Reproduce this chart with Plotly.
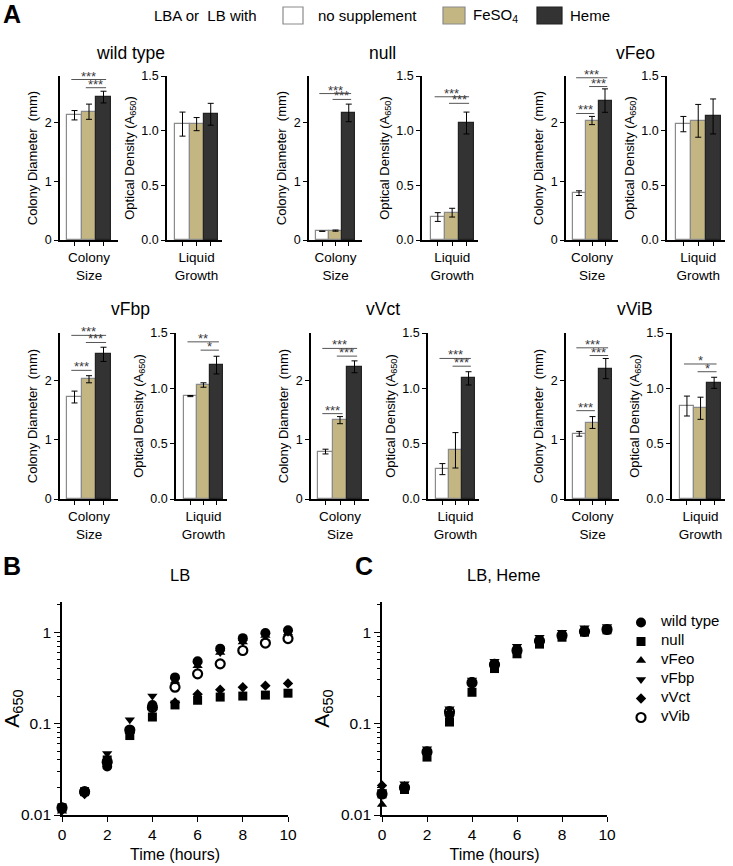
import plotly.graph_objects as go

W, H = 733, 866
FONT = "Liberation Sans, Arial, sans-serif"

# ---------------- data: panel A ----------------
strains = ["wild type", "null", "vFeo", "vFbp", "vVct", "vViB"]
conditions = ["no supplement", "FeSO<sub>4</sub>", "Heme"]

colony_mean = {
    "wild type": [2.13, 2.19, 2.44],
    "null": [0.15, 0.16, 2.17],
    "vFeo": [0.80, 2.04, 2.38],
    "vFbp": [1.72, 2.02, 2.44],
    "vVct": [0.80, 1.33, 2.23],
    "vViB": [1.10, 1.29, 2.20],
}
colony_err = {
    "wild type": [0.08, 0.13, 0.10],
    "null": [0.0, 0.01, 0.15],
    "vFeo": [0.04, 0.07, 0.20],
    "vFbp": [0.10, 0.06, 0.12],
    "vVct": [0.04, 0.06, 0.10],
    "vViB": [0.04, 0.10, 0.17],
}
liquid_mean = {
    "wild type": [1.06, 1.06, 1.15],
    "null": [0.21, 0.25, 1.07],
    "vFeo": [1.06, 1.09, 1.13],
    "vFbp": [0.93, 1.03, 1.21],
    "vVct": [0.27, 0.44, 1.09],
    "vViB": [0.84, 0.82, 1.05],
}
liquid_err = {
    "wild type": [0.11, 0.06, 0.10],
    "null": [0.04, 0.04, 0.10],
    "vFeo": [0.07, 0.15, 0.16],
    "vFbp": [0.005, 0.02, 0.08],
    "vVct": [0.05, 0.16, 0.06],
    "vViB": [0.09, 0.10, 0.05],
}
# significance brackets: (from bar, to bar, height, label)
colony_sig = {
    "wild type": [(0, 2, 2.74, "***"), (1, 2, 2.60, "***")],
    "null": [(0, 2, 2.50, "***"), (1, 2, 2.40, "***")],
    "vFeo": [(0, 2, 2.77, "***"), (1, 2, 2.62, "***"), (0, 1, 2.16, "***")],
    "vFbp": [(0, 2, 2.76, "***"), (1, 2, 2.64, "***"), (0, 1, 2.17, "***")],
    "vVct": [(0, 2, 2.54, "***"), (1, 2, 2.41, "***"), (0, 1, 1.44, "***")],
    "vViB": [(0, 2, 2.55, "***"), (1, 2, 2.42, "***"), (0, 1, 1.49, "***")],
}
liquid_sig = {
    "wild type": [],
    "null": [(0, 2, 1.31, "***"), (1, 2, 1.25, "***")],
    "vFeo": [],
    "vFbp": [(0, 2, 1.42, "**"), (1, 2, 1.345, "*")],
    "vVct": [(0, 2, 1.27, "***"), (1, 2, 1.20, "***")],
    "vViB": [(0, 2, 1.22, "*"), (1, 2, 1.15, "*")],
}

# ---------------- data: panels B, C ----------------
hours = list(range(11))
series_names = ["wild type", "null", "vFeo", "vFbp", "vVct", "vVib"]
lb_values = {
    "wild type": [0.012, 0.018, 0.034, 0.085, 0.16, 0.32, 0.48, 0.66, 0.86, 0.98, 1.05],
    "null": [0.012, 0.018, 0.040, 0.074, 0.118, 0.16, 0.18, 0.195, 0.20, 0.205, 0.215],
    "vFeo": [0.011, 0.018, 0.040, 0.082, 0.15, 0.29, 0.43, 0.60, 0.78, 0.92, 0.98],
    "vFbp": [0.011, 0.017, 0.047, 0.11, 0.20, 0.30, 0.44, 0.60, 0.78, 0.92, 1.00],
    "vVct": [0.012, 0.017, 0.040, 0.080, 0.15, 0.17, 0.21, 0.235, 0.25, 0.26, 0.275],
    "vVib": [0.012, 0.018, 0.038, 0.085, 0.15, 0.25, 0.35, 0.45, 0.63, 0.76, 0.85],
}
heme_values = {
    "wild type": [0.017, 0.0195, 0.049, 0.125, 0.285, 0.45, 0.64, 0.80, 0.92, 1.02, 1.07],
    "null": [0.017, 0.019, 0.043, 0.104, 0.22, 0.40, 0.58, 0.74, 0.88, 1.00, 1.06],
    "vFeo": [0.013, 0.021, 0.050, 0.13, 0.28, 0.45, 0.65, 0.82, 0.95, 1.05, 1.10],
    "vFbp": [0.018, 0.022, 0.053, 0.145, 0.30, 0.48, 0.70, 0.88, 1.00, 1.12, 1.15],
    "vVct": [0.021, 0.020, 0.048, 0.13, 0.28, 0.45, 0.64, 0.80, 0.93, 1.03, 1.08],
    "vVib": [0.017, 0.020, 0.049, 0.135, 0.28, 0.44, 0.63, 0.80, 0.92, 1.02, 1.07],
}

# ---------------- styling / layout ----------------
BAR_COLORS = ["#ffffff", "#c3b682", "#333333"]
BAR_LINES = ["#8a8a8a", "#8a8a8a", "#222222"]
SYMBOLS = {"wild type": "circle", "null": "square", "vFeo": "triangle-up",
           "vFbp": "triangle-down", "vVct": "diamond", "vVib": "circle-open"}
SIZES = {"wild type": 10, "null": 9, "vFeo": 9, "vFbp": 9, "vVct": 8, "vVib": 9}


def px_x(a):
    return a / W


def px_y(b):
    return 1 - b / H


def xd(a, b):
    return [px_x(a), px_x(b)]


def yd(top, bot):
    return [px_y(bot), px_y(top)]


# pixel boxes: (colony x0, x1, liquid x0, x1, top, bottom, title center x, title y)
panel_px = {
    "wild type": (60, 118, 167, 222, 76, 240, 130, 53),
    "null": (309, 362, 422, 478, 76, 240, 382, 53),
    "vFeo": (566, 618, 667, 725, 76, 240, 635, 53),
    "vFbp": (60, 118, 176, 227, 333, 499, 130, 309),
    "vVct": (311, 369, 428, 479, 333, 499, 383, 309),
    "vViB": (566, 619, 672, 725, 333, 499, 635, 309),
}

fig = go.Figure()
layout = dict(
    width=W, height=H, margin=dict(l=0, r=0, t=0, b=0, autoexpand=False),
    paper_bgcolor="white", plot_bgcolor="white",
    font=dict(family=FONT, color="black", size=12),
    showlegend=True, bargap=0,
)
annotations = []
shapes = []

axis_common = dict(showgrid=False, zeroline=False, showline=True, linecolor="black",
                   linewidth=1.6, ticks="outside", ticklen=4, tickwidth=1.4,
                   tickcolor="black", tickfont=dict(size=12.5, family=FONT),
                   automargin=False)

k = 0
for s in strains:
    cx0, cx1, lx0, lx1, top, bot, tcx, ty = panel_px[s]
    for kind in ("colony", "liquid"):
        k += 1
        xa, ya = f"x{k}", f"y{k}"
        if kind == "colony":
            means, errs, sig = colony_mean[s], colony_err[s], colony_sig[s]
            dom = xd(cx0, cx1)
            yr, yt, yfmt = [0, 2.8], [0, 1, 2], None
            xlabel = "Colony<br>Size"
            ytitle = "Colony Diameter  (mm)"
            xr = [-1, 3]
        else:
            means, errs, sig = liquid_mean[s], liquid_err[s], liquid_sig[s]
            dom = xd(lx0, lx1)
            yr, yt, yfmt = [0, 1.5], [0, 0.5, 1.0, 1.5], ".1f"
            xlabel = "Liquid<br>Growth"
            ytitle = "Optical Density (A<sub>650</sub>)"
            xr = [-1.1, 2.8]
        fig.add_trace(go.Bar(
            x=[0, 1, 2], y=means, width=1, xaxis=xa, yaxis=ya, showlegend=False,
            marker=dict(color=BAR_COLORS, line=dict(color=BAR_LINES, width=1.2)),
            error_y=dict(type="data", array=errs, color="black", thickness=1, width=3),
            hoverinfo="skip",
        ))
        layout[f"xaxis{k}"] = dict(axis_common, domain=dom, anchor=ya, range=xr,
                                   tickvals=[1], ticktext=[xlabel],
                                   tickfont=dict(size=13.5, family=FONT),
                                   minor=dict(tickvals=[0, 2], ticks="outside", ticklen=4,
                                              tickwidth=1.4, tickcolor="black"))
        ya_d = dict(axis_common, domain=yd(top, bot), anchor=xa, range=yr, tickvals=yt,
                    title=dict(text=ytitle, font=dict(size=13, family=FONT), standoff=4))
        if yfmt:
            ya_d["tickformat"] = yfmt
        layout[f"yaxis{k}"] = ya_d
        for (i, j, hgt, lab) in sig:
            shapes.append(dict(type="line", xref=xa, yref=ya, x0=i - 0.22, x1=j + 0.18,
                               y0=hgt, y1=hgt, line=dict(color="#555555", width=1)))
            annotations.append(dict(xref=xa, yref=ya, x=(i - 0.22 + j + 0.18) / 2, y=hgt,
                                    text=lab, showarrow=False, yanchor="bottom", yshift=-6,
                                    font=dict(size=13, family=FONT, color="#3a3a3a")))
    annotations.append(dict(xref="paper", yref="paper", x=px_x(tcx), y=px_y(ty), text=s,
                            showarrow=False, xanchor="center", yanchor="middle",
                            font=dict(size=17.5, family=FONT)))

# ---------------- panels B and C ----------------
minor_vals = [m * 10 ** e for e in (-2, -1, 0) for m in range(2, 10)]
for (vals, title, x0, x1, tcx, show_leg) in (
        (lb_values, "LB", 62, 288, 180, False),
        (heme_values, "LB, Heme", 382, 607, 503, True)):
    k += 1
    xa, ya = f"x{k}", f"y{k}"
    draw_order = ["vFeo", "vFbp", "vVct", "null", "wild type", "vVib"]
    for nm in draw_order:
        sym = SYMBOLS[nm]
        fig.add_trace(go.Scatter(
            x=hours, y=vals[nm], mode="markers", xaxis=xa, yaxis=ya,
            name=f'<span style="font-size:15px">{nm}</span>',
            showlegend=show_leg, legendrank=series_names.index(nm) + 1, cliponaxis=False,
            marker=dict(symbol=sym, size=SIZES[nm], color="black",
                        line=dict(color="black", width=2.2 if sym == "circle-open" else 0)),
        ))
    layout[f"xaxis{k}"] = dict(axis_common, domain=xd(x0, x1), anchor=ya, range=[0, 10],
                               tickvals=[0, 2, 4, 6, 8, 10], ticklen=5,
                               tickfont=dict(size=15.5, family=FONT),
                               title=dict(text="Time (hours)", font=dict(size=16, family=FONT),
                                          standoff=6))
    layout[f"yaxis{k}"] = dict(axis_common, domain=yd(602, 815), anchor=xa, type="log",
                               range=[-2, 0.33], tickvals=[0.01, 0.1, 1],
                               ticktext=["0.01", "0.1", "1"], ticklen=6,
                               tickfont=dict(size=15.5, family=FONT),
                               minor=dict(tickvals=minor_vals, ticks="outside", ticklen=3,
                                          tickcolor="black", tickwidth=1),
                               title=dict(text="A<sub>650</sub>", font=dict(size=21, family=FONT),
                                          standoff=6))
    annotations.append(dict(xref="paper", yref="paper", x=px_x(tcx), y=px_y(575), text=title,
                            showarrow=False, xanchor="center", yanchor="middle",
                            font=dict(size=16.5, family=FONT)))

layout["legend"] = dict(x=px_x(621), y=px_y(608), xanchor="left", yanchor="top",
                        font=dict(size=10, family=FONT), bgcolor="rgba(0,0,0,0)",
                        tracegroupgap=0, itemsizing="trace")

# ---------------- panel letters and top legend ----------------
for (lab, px, py) in (("A", 12, 14), ("B", 12, 566), ("C", 364, 566)):
    annotations.append(dict(xref="paper", yref="paper", x=px_x(px), y=px_y(py), text=f"<b>{lab}</b>",
                            showarrow=False, xanchor="center", yanchor="middle",
                            font=dict(size=25, family=FONT)))
annotations.append(dict(xref="paper", yref="paper", x=px_x(152), y=px_y(16), text="LBA or  LB with",
                        showarrow=False, xanchor="left", yanchor="middle",
                        font=dict(size=15, family=FONT)))
box_px = [(283, 303, 316), (443, 465, 471), (537, 562, 568)]
for (bx0, bx1, tx), col, lc, lab in zip(box_px, BAR_COLORS, BAR_LINES, conditions):
    shapes.append(dict(type="rect", xref="paper", yref="paper", x0=px_x(bx0), x1=px_x(bx1),
                       y0=px_y(24), y1=px_y(7), fillcolor=col, line=dict(color=lc, width=1.2)))
    annotations.append(dict(xref="paper", yref="paper", x=px_x(tx), y=px_y(16), text=lab,
                            showarrow=False, xanchor="left", yanchor="middle",
                            font=dict(size=15, family=FONT)))

layout["annotations"] = annotations
layout["shapes"] = shapes
fig.update_layout(**layout)
fig.write_html("out.html", config={"displayModeBar": False},
               post_script="document.body.style.margin='0px';")
